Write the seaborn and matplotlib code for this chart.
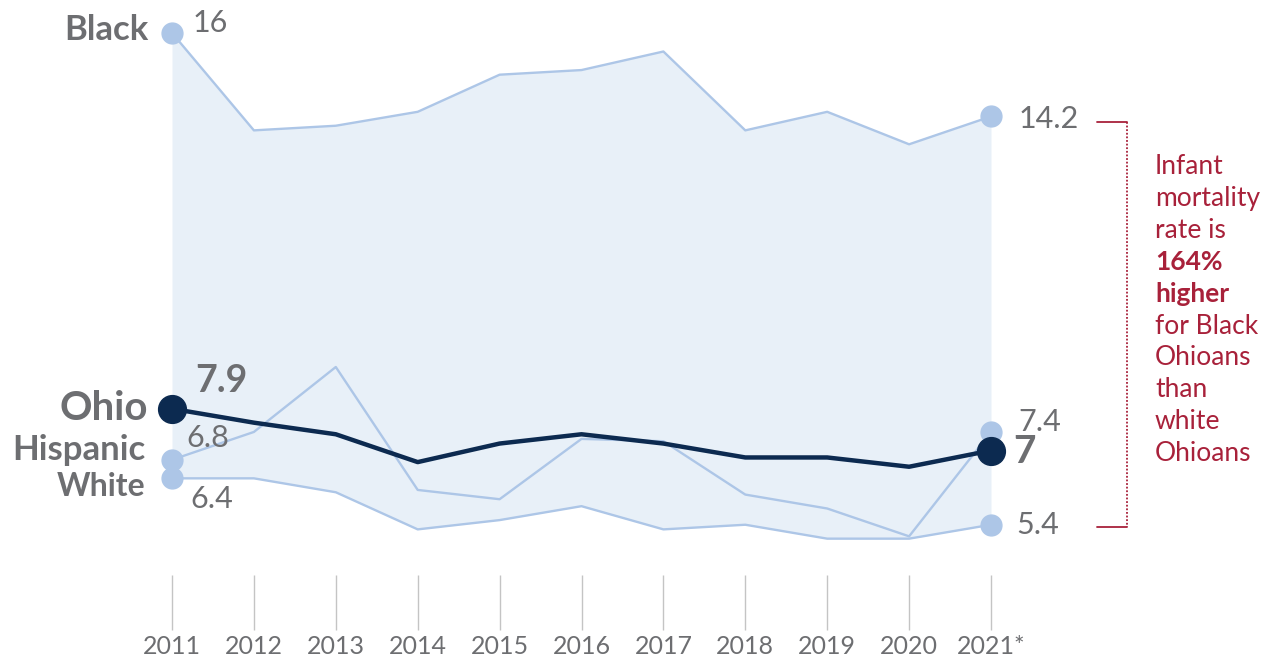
import numpy as np
import pandas as pd
import seaborn as sns
import matplotlib.pyplot as plt
import matplotlib.transforms as mtransforms
from matplotlib.lines import Line2D

# data (infant mortality rate per 1,000 births)
years = ["2011", "2012", "2013", "2014", "2015", "2016", "2017", "2018", "2019", "2020", "2021*"]
black = [16.0, 13.9, 14.0, 14.3, 15.1, 15.2, 15.6, 13.9, 14.3, 13.6, 14.2]
hispanic = [6.8, 7.4, 8.8, 6.15, 5.95, 7.25, 7.2, 6.05, 5.75, 5.15, 7.4]
white = [6.4, 6.4, 6.1, 5.3, 5.5, 5.8, 5.3, 5.4, 5.1, 5.1, 5.4]
ohio = [7.9, 7.6, 7.35, 6.75, 7.15, 7.35, 7.15, 6.85, 6.85, 6.65, 7.0]

GRAY = "#6d6e71"
LIGHT = "#adc6e7"
NAVY = "#0c2a50"
FILL = "#e8f0f8"
RED = "#a8213a"

sns.set_theme(style="white")
plt.rcParams['font.family'] = ['Lato', 'DejaVu Sans']

x = np.arange(len(years))
df = pd.DataFrame({"x": x, "Black": black, "Hispanic": hispanic, "White": white, "Ohio": ohio})

fig = plt.figure(figsize=(12.78, 6.60), dpi=100)
ax = fig.add_axes([172 / 1278, 100 / 660, (991 - 172) / 1278, 560 / 660])

ax.fill_between(df["x"], df["Black"], df["White"], color=FILL, lw=0, zorder=0)

for col in ["Black", "Hispanic", "White"]:
    sns.lineplot(data=df, x="x", y=col, ax=ax, color=LIGHT, lw=1.7, zorder=2)
    ax.plot(df["x"].iloc[[0, -1]], df[col].iloc[[0, -1]], "o", color=LIGHT,
            ms=15, zorder=3, clip_on=False)
sns.lineplot(data=df, x="x", y="Ohio", ax=ax, color=NAVY, lw=3.2, zorder=4)
ax.plot(df["x"].iloc[[0, -1]], df["Ohio"].iloc[[0, -1]], "o", color=NAVY,
        ms=20, zorder=5, clip_on=False)

ax.set_xlim(0, len(years) - 1)
ax.set_ylim(4.64, 16.71)
ax.axis("off")

# year ticks below the plot
trans = mtransforms.blended_transform_factory(ax.transData, ax.transAxes)
ax.vlines(x, -15 / 560, -70 / 560, color="#c4c4c4", lw=1, transform=trans, clip_on=False)
for xi, lab in zip(x, years):
    ax.text(xi, -86 / 560, lab, transform=trans, ha="center", va="center",
            fontsize=18, color=GRAY)

# series names on the left
def lab(y, txt, dx, dy, size, weight="bold", ha="right"):
    ax.annotate(txt, (0, y), xytext=(dx, dy), textcoords="offset points",
                ha=ha, va="center", fontsize=size, fontweight=weight, color=GRAY)

lab(black[0], "Black", -17, 2, 25)
lab(ohio[0], "Ohio", -17, 0, 29)
lab(hispanic[0], "Hispanic", -19, 7, 25)
lab(white[0], "White", -19, -6, 23)

# values at 2011
lab(black[0], "16", 15, 7, 22, "normal", "left")
lab(ohio[0], "7.9", 17, 20, 27, "bold", "left")
lab(hispanic[0], "6.8", 10, 16, 22, "normal", "left")
lab(white[0], "6.4", 13, -15, 22, "normal", "left")

# values at 2021
def rlab(y, txt, dy, size, weight="normal", dx=20):
    ax.annotate(txt, (x[-1], y), xytext=(dx, dy), textcoords="offset points",
                ha="left", va="center", fontsize=size, fontweight=weight, color=GRAY)

rlab(black[-1], "14.2", -2, 22)
rlab(hispanic[-1], "7.4", 7, 22)
rlab(ohio[-1], "7", -1, 28, "bold", dx=16)
rlab(white[-1], "5.4", 0, 22, dx=18)

# bracket and note
bx0, bx1 = 1097 / 1278, 1127 / 1278
ty, by = 1 - 122 / 660, 1 - 527 / 660
for xs, ys, ls in [([bx0, bx1], [ty, ty], "-"), ([bx0, bx1], [by, by], "-"),
                   ([bx1, bx1], [ty, by], (0, (1, 1)))]:
    fig.add_artist(Line2D(xs, ys, color=RED, lw=1.3, ls=ls, transform=fig.transFigure))

note = [("Infant", "normal"), ("mortality", "normal"), ("rate is", "normal"),
        ("164%", "bold"), ("higher", "bold"), ("for Black", "normal"),
        ("Ohioans", "normal"), ("than", "normal"), ("white", "normal"), ("Ohioans", "normal")]
for i, (t, w) in enumerate(note):
    fig.text(1155 / 1278, 1 - (167 + i * 31.8) / 660, t, ha="left", va="center",
             fontsize=19, fontweight=w, color=RED)

plt.savefig("out.png", dpi=100)
